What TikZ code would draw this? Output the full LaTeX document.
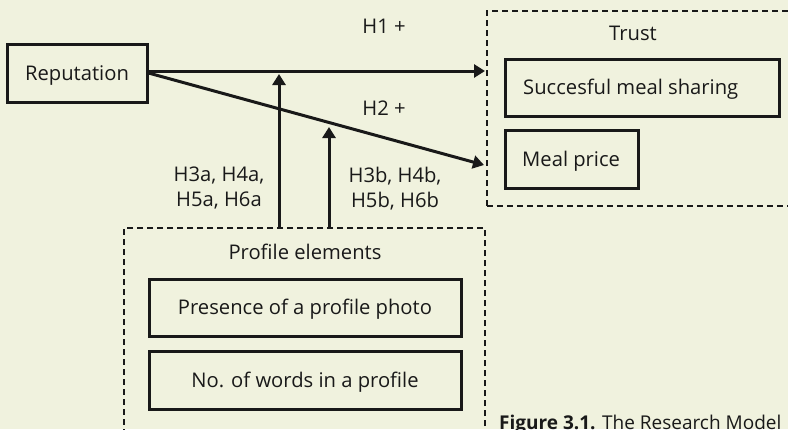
\documentclass[tikz,border=0pt]{standalone}
\usepackage{fontspec}
\setmainfont{Open Sans}
\usetikzlibrary{arrows.meta}
\definecolor{bg}{RGB}{240,242,222}
\definecolor{ink}{RGB}{25,25,25}
\begin{document}
\begin{tikzpicture}[x=1pt,y=-1pt,
  box/.style={draw=ink, line width=3pt, rectangle, inner sep=0pt},
  grp/.style={draw=ink, line width=1.8pt, dash pattern=on 6pt off 4pt, rectangle, inner sep=0pt},
  lbl/.style={inner sep=0pt, text=ink, font=\fontsize{20.2}{25}\selectfont, text height=14.4pt, text depth=0pt},
  mlbl/.style={inner sep=0pt, text=ink, font=\fontsize{20.2}{25}\selectfont, align=center, anchor=north},
  arr/.style={draw=ink, line width=3pt, -{Triangle[length=11pt,width=13pt]}}]
\useasboundingbox (0,0) rectangle (788,429);
\fill[bg] (0,0) rectangle (788,429);
\clip (0,0) rectangle (788,429);

% groups
\node[grp, minimum width=308pt, minimum height=195pt] (trust) at (641,108.5) {};
\node[grp, minimum width=361pt, minimum height=217pt] (prof) at (304.5,336.5) {};
\node[lbl] (trustlbl) at (633,33) {Trust};
\node[lbl] (proflbl) at (305,252.5) {Profile elements};

% boxes
\node[box, lbl, minimum width=140pt, minimum height=58pt] (rep) at (77,73) {Reputation};
\node[box, minimum width=274pt, minimum height=57pt] (succ) at (642,87.5) {};
\node[lbl, anchor=west] (succlbl) at (523,87.5) {Succesful meal sharing};
\node[box, minimum width=133pt, minimum height=58pt] (price) at (571.5,159) {};
\node[lbl, anchor=west] (pricelbl) at (522,159) {Meal price};
\node[box, lbl, minimum width=312pt, minimum height=57pt] (photo) at (305,307.5) {Presence of a profile photo};
\node[box, lbl, minimum width=312pt, minimum height=58pt] (words) at (305,380) {No. of words in a profile};

% connectors
\coordinate (t1) at (485,71);
\coordinate (t2) at (484,165);
\coordinate (m1) at (279,74);
\coordinate (m2) at (329,127);
\draw[arr] ([yshift=2pt]rep.east) -- (t1);
\draw[arr] (rep.east) -- (t2);
\draw[arr] (prof.north -| m1) -- (m1);
\draw[arr] (prof.north -| m2) -- (m2);

% labels
\node[lbl] (h1) at (384,26) {H1 +};
\node[lbl] (h2) at (384,108) {H2 +};
\node[mlbl] (h3a) at (219,167) {H3a, H4a,\\H5a, H6a};
\node[mlbl] (h3b) at (395,167) {H3b, H4b,\\H5b, H6b};

% caption
\node[anchor=base west, inner sep=0pt, text=ink, font=\fontsize{19}{22}\selectfont] (cap) at (499,429) {\textbf{Figure 3.1.} The Research Model};
\end{tikzpicture}
\end{document}
